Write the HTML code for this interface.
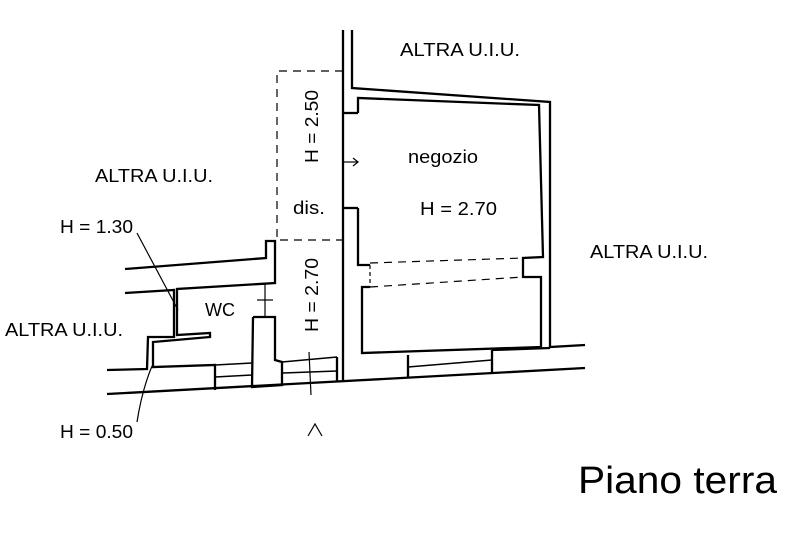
<!DOCTYPE html>
<html><head><meta charset="utf-8"><style>
html,body{margin:0;padding:0;background:#fff;}
svg{display:block;}
text{font-family:"Liberation Sans",Arial,sans-serif;fill:#000;}
</style></head><body>
<svg width="800" height="533" viewBox="0 0 800 533" xmlns="http://www.w3.org/2000/svg">
<g stroke="#000" stroke-width="2.3" fill="none" stroke-linejoin="miter">
<line x1="343" y1="30" x2="343" y2="381"/>
<polyline points="352,30 352,88 550,102 550,347 585,345"/>
<polyline points="358,113 358,98 539,105 543,257 523,258 523,277 541,277 541,347 362,353 362,287 370,287"/>
<polyline points="358,208 358,265 370,265"/>
<line x1="343" y1="113" x2="358" y2="113"/>
<line x1="343" y1="208" x2="358" y2="208"/>
<polyline points="408,355 408,378"/>
<polyline points="492,350 492,372"/>
<line x1="492" y1="350" x2="550" y2="348"/>
<line x1="107" y1="394" x2="585" y2="368"/>
<line x1="408" y1="367" x2="492" y2="360" stroke-width="1.5"/>
<line x1="337" y1="357" x2="337" y2="381"/>
<line x1="282" y1="362" x2="337" y2="357" stroke-width="1.5"/>
<line x1="283" y1="373" x2="337" y2="371" stroke-width="1.5"/>
<polyline points="253,317 275,317 275,360 282,362 282,385 252,387 253,317"/>
<polyline points="125,269 266,258 266,241 275,241 275,283 177,289 177,335 210,333 210,337 153,342 153,367 215,365 215,390"/>
<line x1="215" y1="365" x2="252" y2="363" stroke-width="1.5"/>
<line x1="215" y1="377" x2="252" y2="375" stroke-width="1.5"/>
<polyline points="125,293 174,290 174,337 148,337 147,369 107,370"/>
<line x1="265" y1="283" x2="265" y2="317" stroke-width="1.2"/>
<line x1="257" y1="300" x2="273" y2="300" stroke-width="1.2"/>
</g>
<g stroke="#000" stroke-width="1.2" fill="none">
<polyline points="343,71 277,71 277,240 343,240" stroke-dasharray="8,6"/>
<line x1="370" y1="263" x2="523" y2="258" stroke-dasharray="8,6"/>
<line x1="370" y1="287" x2="523" y2="277" stroke-dasharray="8,6"/>
<line x1="370" y1="265" x2="370" y2="287" stroke-dasharray="4,3"/>
<line x1="343" y1="162" x2="358" y2="162"/>
<polyline points="353,158 358,162 353,166"/>
<line x1="137" y1="233" x2="178" y2="310"/>
<path d="M137,422 Q142,390 152,366"/>
<line x1="309" y1="352" x2="311" y2="395"/>
<polyline points="308,436 315,424 322,436"/>
</g>
<g font-size="18">
<text x="400" y="56" textLength="120" lengthAdjust="spacingAndGlyphs">ALTRA U.I.U.</text>
<text x="95" y="182" textLength="118" lengthAdjust="spacingAndGlyphs">ALTRA U.I.U.</text>
<text x="590" y="258" textLength="118" lengthAdjust="spacingAndGlyphs">ALTRA U.I.U.</text>
<text x="5" y="336" textLength="118" lengthAdjust="spacingAndGlyphs">ALTRA U.I.U.</text>
<text x="60" y="233" textLength="73" lengthAdjust="spacingAndGlyphs">H = 1.30</text>
<text x="60" y="438" textLength="73" lengthAdjust="spacingAndGlyphs">H = 0.50</text>
<text x="408" y="163" textLength="70" lengthAdjust="spacingAndGlyphs">negozio</text>
<text x="420" y="215" textLength="77" lengthAdjust="spacingAndGlyphs">H = 2.70</text>
<text x="293" y="214" textLength="32" lengthAdjust="spacingAndGlyphs">dis.</text>
<text x="205" y="316" textLength="30" lengthAdjust="spacingAndGlyphs">WC</text>
<text transform="translate(318,163) rotate(-90)" textLength="73" lengthAdjust="spacingAndGlyphs">H = 2.50</text>
<text transform="translate(318,332) rotate(-90)" textLength="74" lengthAdjust="spacingAndGlyphs">H = 2.70</text>
</g>
<text x="578" y="493" font-size="38" textLength="199" lengthAdjust="spacingAndGlyphs">Piano terra</text>
</svg>
</body></html>
